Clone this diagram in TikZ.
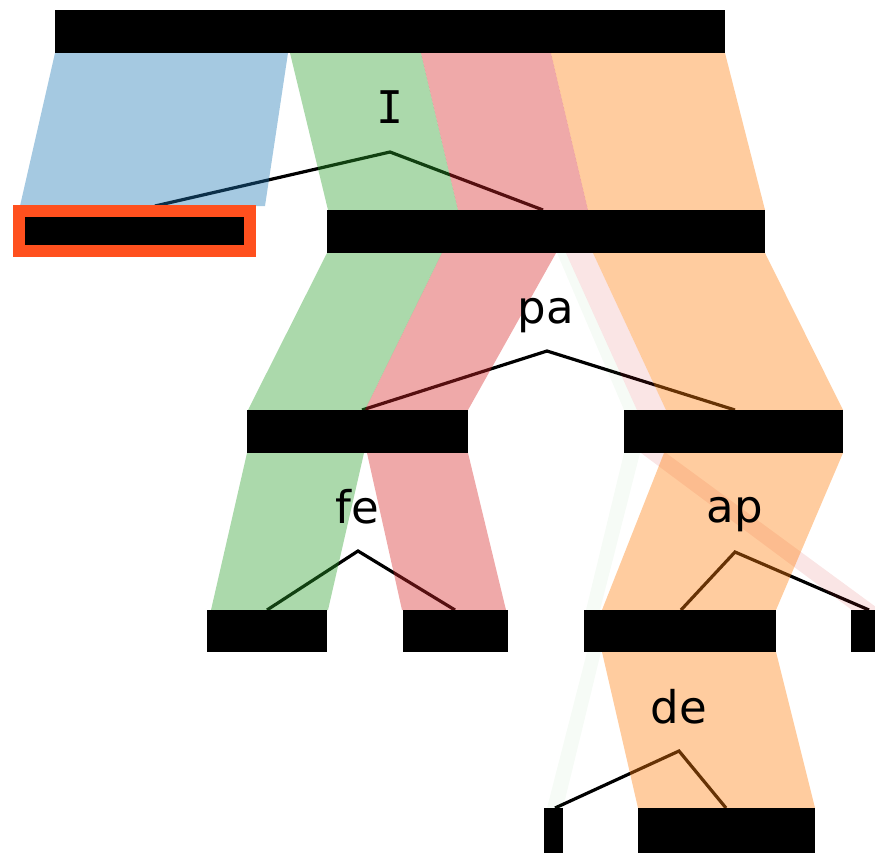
\documentclass[tikz,border=0pt]{standalone}
\usepackage{fontspec}
\setmainfont{DejaVu Sans}
\newfontfamily\monoface{DejaVu Sans Mono}
\definecolor{tblue}{RGB}{31,119,180}
\definecolor{tgreen}{RGB}{44,160,44}
\definecolor{tred}{RGB}{214,39,40}
\definecolor{torange}{RGB}{255,127,14}
\definecolor{boxred}{RGB}{255,80,30}
\begin{document}
\begin{tikzpicture}[x=1pt,y=-1pt,
  bar/.style={fill=black, inner sep=0pt, outer sep=0pt, anchor=north west},
  band/.style={opacity=0.4},
  faint/.style={opacity=0.12},
  fainter/.style={opacity=0.045},
  tree/.style={line width=3.2pt, black, line join=miter},
  lbl/.style={font=\fontsize{45}{45}\selectfont, anchor=base, inner sep=0pt}]
\useasboundingbox (0,0) rectangle (875,852);
\clip (0,0) rectangle (875,852);

% tree connectors (drawn first so the bands tint them)
\coordinate (aI)  at (390,152);
\coordinate (aPa) at (547,351);
\coordinate (aFe) at (358,551);
\coordinate (aAp) at (735,552);
\coordinate (aDe) at (679,751);
\coordinate (eI1) at (155,206);
\coordinate (eI2) at (543,210);
\coordinate (ePa1) at (362,410);
\coordinate (ePa2) at (735,410);
\coordinate (eFe1) at (267,610);
\coordinate (eFe2) at (455,610);
\coordinate (eAp1) at (681,610);
\coordinate (eAp2) at (869,610);
\coordinate (eDe1) at (555,808);
\coordinate (eDe2) at (726,808);
\draw[tree] (eI1) -- (aI) -- (eI2);
\draw[tree] (ePa1) -- (aPa) -- (ePa2);
\draw[tree] (eFe1) -- (aFe) -- (eFe2);
\draw[tree] (eAp1) -- (aAp) -- (eAp2);
\draw[tree] (eDe1) -- (aDe) -- (eDe2);

% bands: top bar -> level 2
\fill[tblue,band]   (55,53) -- (288,53) -- (265,206) -- (20,206) -- cycle;
\fill[tgreen,band]  (290,53) -- (421,53) -- (458,210) -- (328,210) -- cycle;
\fill[tred,band]    (421,53) -- (551,53) -- (588,210) -- (458,210) -- cycle;
\fill[torange,band] (551,53) -- (725,53) -- (765,210) -- (588,210) -- cycle;

% level 2 -> level 3
\fill[tgreen,band]  (327,253) -- (442,253) -- (365,410) -- (248,410) -- cycle;
\fill[tred,band]    (442,253) -- (556,253) -- (468,410) -- (365,410) -- cycle;
\fill[tgreen,fainter] (557,253) -- (566,253) -- (637,410) -- (624,410) -- cycle;
\fill[tred,faint]   (566,253) -- (593,253) -- (666,410) -- (637,410) -- cycle;
\fill[torange,band] (593,253) -- (765,253) -- (843,410) -- (666,410) -- cycle;

% level 3 -> level 4
\fill[tgreen,band]  (247,453) -- (364,453) -- (328,610) -- (211,610) -- cycle;
\fill[tred,band]    (367,453) -- (468,453) -- (506,610) -- (402,610) -- cycle;
\fill[tgreen,fainter] (624,453) -- (640,453) -- (600,610) -- (586,610) -- cycle;
\fill[tred,faint]   (641,453) -- (666,453) -- (880,610) -- (852,610) -- cycle;
\fill[torange,band] (664,453) -- (843,453) -- (776,610) -- (602,610) -- cycle;

% level 4 -> level 5
\fill[tgreen,fainter] (587,652) -- (601,652) -- (563,808) -- (547,808) -- cycle;
\fill[torange,band] (602,652) -- (776,652) -- (815,808) -- (638,808) -- cycle;

% bars
\node[bar, minimum width=670pt, minimum height=43pt] (top) at (55,10) {};
\node[bar, draw=boxred, line width=12pt, minimum width=231pt, minimum height=40pt] (pick) at (18.5,211) {};
\node[bar, minimum width=438pt, minimum height=43pt] (lvA) at (327,210) {};
\node[bar, minimum width=221pt, minimum height=43pt] (lvBa) at (247,410) {};
\node[bar, minimum width=219pt, minimum height=43pt] (lvBb) at (624,410) {};
\node[bar, minimum width=120pt, minimum height=42pt] (lvCa) at (207,610) {};
\node[bar, minimum width=105pt, minimum height=42pt] (lvCb) at (403,610) {};
\node[bar, minimum width=192pt, minimum height=42pt] (lvCc) at (584,610) {};
\node[bar, minimum width=40pt, minimum height=42pt] (lvCd) at (851,610) {};
\node[bar, minimum width=19pt, minimum height=50pt] (lvDa) at (544,808) {};
\node[bar, minimum width=177pt, minimum height=50pt] (lvDb) at (638,808) {};

% labels
\node[lbl] (tI)  at (390,123) {\monoface I};
\node[lbl] (tPa) at (546,323) {pa};
\node[lbl] (tFe) at (357,523) {fe};
\node[lbl] (tAp) at (735,522) {ap};
\node[lbl] (tDe) at (679,723) {de};
\end{tikzpicture}
\end{document}
